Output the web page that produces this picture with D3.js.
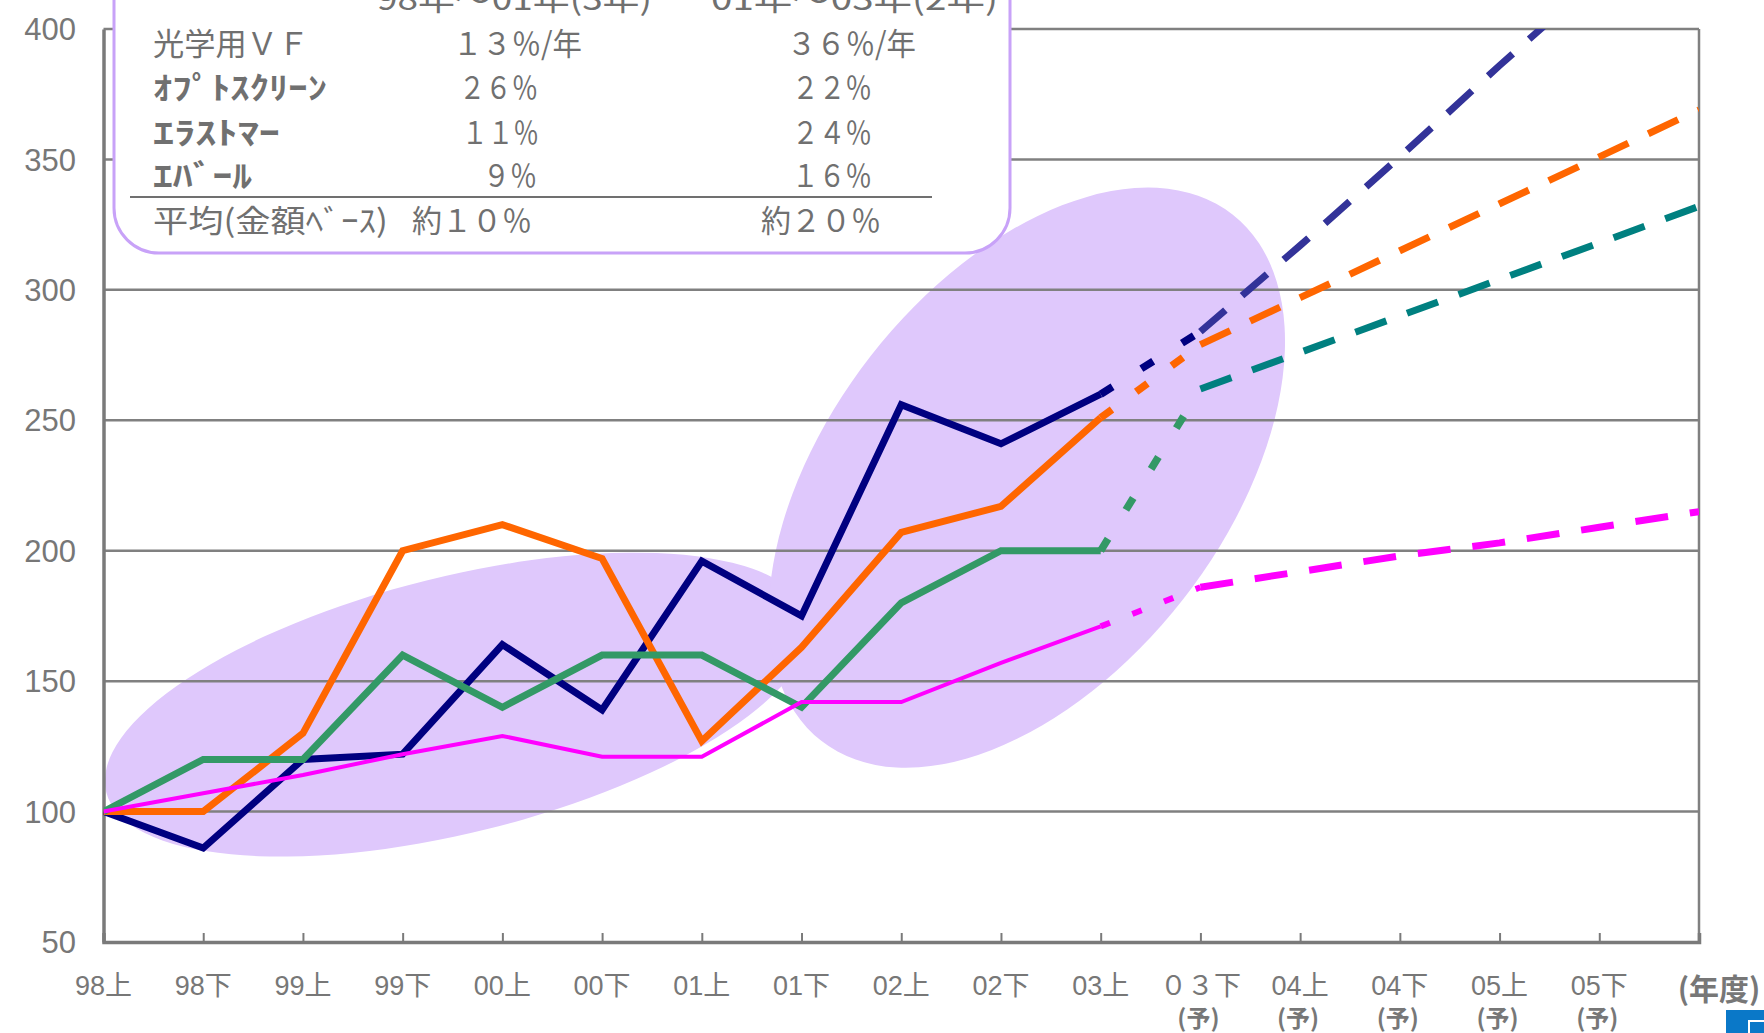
<!DOCTYPE html>
<html lang="ja">
<head>
<meta charset="utf-8">
<title>growth chart</title>
<script src="https://d3js.org/d3.v7.min.js"></script>
<style>
  body { margin: 0; background: #fff; }
  svg { display: block; }
  .ylab { font: 31px "Liberation Sans", Arial, sans-serif; fill: #777; }
  .xlab { font: 27px "Liberation Sans", "Noto Sans CJK JP", sans-serif; fill: #777; }
  .xsub { font: bold 24px "Noto Sans CJK JP", sans-serif; fill: #777; }
  .boxtxt { font: 31px "Noto Sans CJK JP", sans-serif; fill: #707070; }
</style>
</head>
<body>
<div id="viz"></div>
<script>

// categories (half-year), last slot is the unit label
var categories = ["98上","98下","99上","99下","00上","00下","01上","01下","02上","02下","03上","０３下","04上","04下","05上","05下"];
var forecastFrom = 11;
var unitLabel = "(年度)";
var yTicks = [50, 100, 150, 200, 250, 300, 350, 400];

// actual values, 98上..03上
var vfActual = [100, 86, 120, 122, 164, 139, 196, 175, 256, 241, 260];
var optoActual = [100, 100, 130, 200, 210, 197, 127, 163, 207, 217, 251];
var elastoActual = [100, 120, 120, 160, 140, 160, 160, 140, 180, 200, 200];
var evalActual = [100, 107, 114, 122, 129, 121, 121, 142, 142, 157, 171];

// forecast values, 03上..right edge
var vfForecast = [260, 284, 317, 351, 386, 420, 454];
var optoForecast = [251, 279, 297, 315, 333, 351, 369];
var elastoForecast = [200, 262, 276, 290, 304, 318, 332];
var evalForecast = [171, 186, 192, 198, 203, 209, 215];

// growth table in the box
var tableHeads = ["98年～01年(3年)", "01年～03年(2年)"];
var tableNames = ["光学用ＶＦ", "ｵﾌﾟﾄｽｸﾘｰﾝ", "ｴﾗｽﾄﾏｰ", "ｴﾊﾞｰﾙ"];
var tableCol1 = ["１３％/年", "２６％", "１１％", "９％"];
var tableCol2 = ["３６％/年", "２２％", "２４％", "１６％"];
var avgName = "平均(金額ﾍﾞｰｽ)";
var avgCol1 = "約１０％";
var avgCol2 = "約２０％";

var W = 1764, H = 1033;
var margin = {top: 29, right: 65, bottom: 91, left: 103.5};

var svg = d3.select("#viz").append("svg")
    .attr("width", W)
    .attr("height", H);

var x = d3.scaleLinear().domain([0, 16]).range([margin.left, W - margin.right]);
var y = d3.scaleLinear().domain([50, 400]).range([H - margin.bottom, margin.top]);

svg.append("defs").append("clipPath").attr("id", "plotclip")
  .append("rect")
    .attr("x", x(0)).attr("y", y(400))
    .attr("width", x(16) - x(0)).attr("height", y(50) - y(400));

// highlight ellipses
var ellipses = [
  {cx: 3.55, cy: 141, rx: 362, ry: 128, rot: -14},
  {cx: 9.26, cy: 228, rx: 334, ry: 198, rot: -52}
];
svg.append("g").selectAll("ellipse")
  .data(ellipses).enter().append("ellipse")
    .attr("transform", function(d) { return "translate(" + x(d.cx) + "," + y(d.cy) + ") rotate(" + d.rot + ")"; })
    .attr("rx", function(d) { return d.rx; })
    .attr("ry", function(d) { return d.ry; })
    .attr("fill", "#dfc8fc");

// gridlines
svg.append("g").selectAll("line")
  .data(yTicks.filter(function(v) { return v > 50; })).enter().append("line")
    .attr("x1", x(0)).attr("x2", x(16))
    .attr("y1", function(d) { return y(d); })
    .attr("y2", function(d) { return y(d); })
    .attr("stroke", "#808080").attr("stroke-width", 2.5);
svg.append("line")
    .attr("x1", x(16)).attr("x2", x(16)).attr("y1", y(400)).attr("y2", y(50))
    .attr("stroke", "#808080").attr("stroke-width", 2.5);

// axes
var xAxis = svg.append("g")
    .attr("transform", "translate(0," + y(50) + ")")
    .call(d3.axisBottom(x).tickValues(d3.range(0, 16)).tickSize(-9).tickFormat(""));
xAxis.select(".domain").attr("stroke", "#7a7a7a").attr("stroke-width", 3.5);
xAxis.selectAll(".tick line").attr("stroke", "#7a7a7a").attr("stroke-width", 2);

var yAxis = svg.append("g")
    .attr("transform", "translate(" + x(0) + ",0)")
    .call(d3.axisLeft(y).tickValues(yTicks).tickSize(0).tickFormat(""));
yAxis.select(".domain").attr("stroke", "#7a7a7a").attr("stroke-width", 3.5);

svg.append("g").selectAll("text")
  .data(yTicks).enter().append("text")
    .attr("class", "ylab")
    .attr("x", 76)
    .attr("y", function(d) { return y(d); })
    .attr("dy", "0.36em")
    .attr("text-anchor", "end")
    .text(function(d) { return d; });

svg.append("g").selectAll("text")
  .data(categories).enter().append("text")
    .attr("class", "xlab")
    .attr("x", function(d, i) { return x(i); })
    .attr("y", 995)
    .attr("text-anchor", "middle")
    .text(function(d) { return d; });

svg.append("g").selectAll("text")
  .data(categories.slice(forecastFrom)).enter().append("text")
    .attr("class", "xsub")
    .attr("x", function(d, i) { return x(i + forecastFrom) - 2; })
    .attr("y", 1027)
    .attr("text-anchor", "middle")
    .text("(予)");

svg.append("text")
    .attr("x", x(16) + 20)
    .attr("y", 1000)
    .attr("text-anchor", "middle")
    .style("font", "bold 30px 'Noto Sans CJK JP', sans-serif")
    .style("fill", "#777")
    .text(unitLabel);

// series
var series = [
  {actual: vfActual, forecast: vfForecast, color: "#000080", dashColor: "#333399", w: 7, dotW: 7.5, dot: "14,34"},
  {actual: optoActual, forecast: optoForecast, color: "#ff6600", dashColor: "#ff6600", w: 7, dotW: 7.5, dot: "14,30"},
  {actual: elastoActual, forecast: elastoForecast, color: "#339966", dashColor: "#008080", w: 7, dotW: 7.5, dot: "14,34"},
  {actual: evalActual, forecast: evalForecast, color: "#ff00ff", dashColor: "#ff00ff", w: 4, dotW: 6, dot: "10,24"}
];

var line = d3.line()
    .x(function(d) { return x(d.i); })
    .y(function(d) { return y(d.v); });

var plot = svg.append("g").attr("clip-path", "url(#plotclip)");

series.forEach(function(s) {
  var act = s.actual.map(function(v, i) { return {i: i, v: v}; });
  var fc = s.forecast.map(function(v, i) { return {i: i + forecastFrom - 1, v: v}; });

  plot.append("path")
      .attr("d", line(act))
      .attr("fill", "none")
      .attr("stroke", s.color)
      .attr("stroke-width", s.w)
      .attr("stroke-linejoin", "miter");

  // short dashes 03上 -> 03下
  plot.append("path")
      .attr("d", line(fc.slice(0, 2)))
      .attr("fill", "none")
      .attr("stroke", s.color)
      .attr("stroke-width", s.dotW)
      .attr("stroke-dasharray", s.dot);

  // long dashes from 03下
  plot.append("path")
      .attr("d", line(fc.slice(1)))
      .attr("fill", "none")
      .attr("stroke", s.dashColor)
      .attr("stroke-width", 7)
      .attr("stroke-dasharray", "33,22");
});

// growth table box
var box = svg.append("g");
box.append("rect")
    .attr("x", 114).attr("y", -80)
    .attr("width", 896).attr("height", 333)
    .attr("rx", 45).attr("ry", 45)
    .attr("fill", "#fff")
    .attr("stroke", "#c8a2f8")
    .attr("stroke-width", 3);

function boxText(str, x0, x1, yb, bold) {
  box.append("text")
      .attr("class", "boxtxt")
      .attr("x", x0)
      .attr("y", yb)
      .attr("textLength", x1 - x0)
      .attr("lengthAdjust", "spacingAndGlyphs")
      .style("font-weight", bold ? "bold" : "normal")
      .text(str);
}

boxText(tableHeads[0], 377, 652, 10);
boxText(tableHeads[1], 711, 998, 10);

var rowY = [55, 99, 144, 187];
var nameEnd = [309, 327, 280, 252];
var c1 = [[453, 582], [459, 538], [462, 539], [483, 537]];
var c2 = [[787, 916], [792, 872], [792, 872], [792, 872]];
tableNames.forEach(function(n, i) {
  boxText(n, 153, nameEnd[i], rowY[i], i > 0);
  boxText(tableCol1[i], c1[i][0], c1[i][1], rowY[i]);
  boxText(tableCol2[i], c2[i][0], c2[i][1], rowY[i]);
});

box.append("line")
    .attr("x1", 130).attr("x2", 932)
    .attr("y1", 197).attr("y2", 197)
    .attr("stroke", "#707070").attr("stroke-width", 2);

boxText(avgName, 153, 388, 232);
boxText(avgCol1, 412, 532, 232);
boxText(avgCol2, 761, 881, 232);

// corner icon
svg.append("rect").attr("x", 1726).attr("y", 1010).attr("width", 40).attr("height", 30).attr("fill", "#0a78c8");
svg.append("rect").attr("x", 1749).attr("y", 1021).attr("width", 20).attr("height", 20).attr("fill", "none")
    .attr("stroke", "#fff").attr("stroke-width", 2);

</script>
</body>
</html>
